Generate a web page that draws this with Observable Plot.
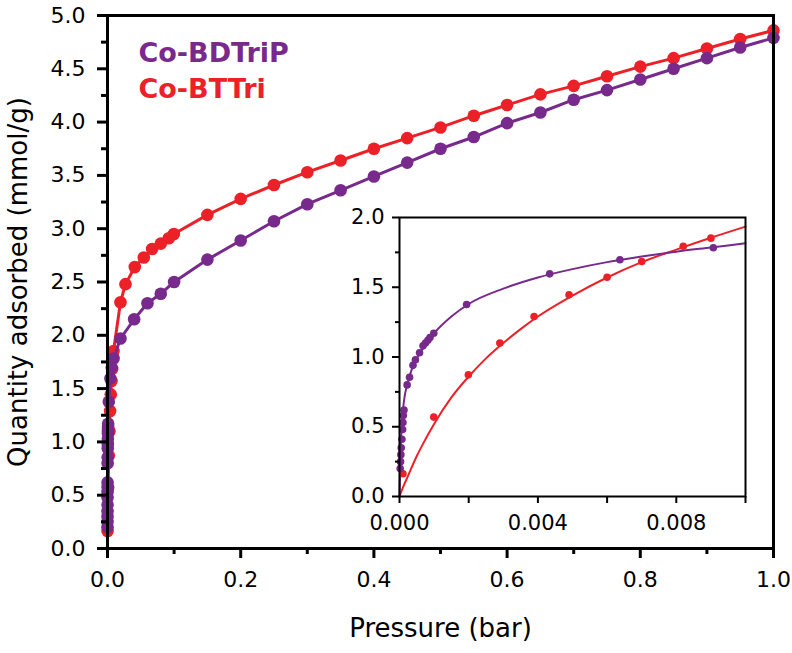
<!DOCTYPE html>
<html><head><meta charset="utf-8">
<script src="https://cdn.jsdelivr.net/npm/d3@7"></script>
<script src="https://cdn.jsdelivr.net/npm/@observablehq/plot@0.6"></script>
<style>
body{margin:0;background:#fff;}
#wrap{position:relative;width:792px;height:653px;overflow:hidden;background:#fff;}
#main,#inset{position:absolute;left:0;top:0;}
#inset{left:329px;top:202px;}
</style></head><body><div id="wrap"><div id="main"></div><div id="inset"></div></div>
<script>
// ---- Data ----
const seriesNames = ["Co-BDTriP", "Co-BTTri"];
const xTitle = "Pressure (bar)";
const yTitle = "Quantity adsorbed (mmol/g)";

// Co-BTTri (red) isotherm
const redP = [0.0001,0.00099,0.00199,0.0029,0.00389,0.0049,0.006,0.007,0.0082,0.009,
  0.0195,0.027,0.041,0.0545,0.067,0.08,0.092,0.0996,0.15,0.2,0.25,0.3,0.35,0.4,0.45,0.5,
  0.55,0.6,0.65,0.7,0.75,0.8,0.85,0.9,0.95,1.0];
const redQ = [0.163,0.569,0.872,1.10,1.29,1.446,1.572,1.685,1.794,1.852,
  2.31,2.48,2.64,2.73,2.81,2.86,2.91,2.95,3.13,3.28,3.41,3.53,3.64,3.75,3.85,3.95,
  4.06,4.16,4.26,4.34,4.43,4.52,4.60,4.69,4.78,4.86];

// Co-BDTriP (purple) isotherm
const purpleP = [0.00002,0.00003,0.00004,0.00005,0.00007,0.00009,0.0001,0.00011,0.00013,0.00022,
  0.00029,0.00039,0.00046,0.00058,0.00068,0.00075,0.00082,0.00088,0.00099,0.00194,0.00434,0.00637,0.00907,
  0.0195,0.04,0.06,0.08,0.1,0.15,0.2,0.25,0.3,0.35,0.4,0.45,0.5,0.55,0.6,0.65,0.7,0.75,0.8,0.85,0.9,0.95,1.0];
const purpleQ = [0.20,0.25,0.30,0.35,0.41,0.48,0.53,0.58,0.62,0.80,
  0.855,0.94,0.98,1.03,1.08,1.10,1.12,1.14,1.17,1.376,1.596,1.697,1.783,
  1.97,2.15,2.30,2.39,2.50,2.71,2.89,3.07,3.23,3.36,3.49,3.62,3.75,3.86,3.99,4.09,4.21,4.30,4.40,4.50,4.60,4.70,4.79];

// Fit curves shown in the inset
const redFitP = [0,0.0001,0.00025,0.0005,0.00075,0.001,0.0015,0.002,0.0025,0.003,0.0035,0.004,0.005,0.006,0.007,0.008,0.009,0.01];
const redFitQ = [0,0.065,0.15,0.29,0.41,0.52,0.71,0.86,0.99,1.10,1.20,1.29,1.44,1.57,1.68,1.77,1.855,1.935];
const purpleFitP = [0,0.00001,0.00003,0.00006,0.0001,0.00015,0.0002,0.0003,0.0004,0.0005,0.0007,0.001,0.0015,0.002,0.003,0.004,0.005,0.006,0.007,0.008,0.009,0.01];
const purpleFitQ = [0,0.12,0.30,0.48,0.62,0.72,0.78,0.87,0.94,0.99,1.07,1.17,1.29,1.38,1.49,1.57,1.63,1.68,1.72,1.755,1.785,1.815];

// Tick values
const mainXMajor = [0,0.2,0.4,0.6,0.8,1.0];
const mainXMinor = [0.1,0.3,0.5,0.7,0.9];
const mainYMajor = [0,0.5,1,1.5,2,2.5,3,3.5,4,4.5,5];
const mainYMinor = [0.25,0.75,1.25,1.75,2.25,2.75,3.25,3.75,4.25,4.75];
const insetXMajor = [0,0.004,0.008];
const insetXMinor = [0.002,0.006,0.01];
const insetYMajor = [0,0.5,1,1.5,2];
const insetYMinor = [0.25,0.75,1.25,1.75];

// ---- Build tables ----
const zip = (P, Q) => P.map((p, i) => ({p, q: Q[i]}));
const red = zip(redP, redQ);
const purple = zip(purpleP, purpleQ);
const redInset = red.filter(d => d.p <= 0.01);
const purpleInset = purple.filter(d => d.p <= 0.01);
const redFit = zip(redFitP, redFitQ);
const purpleFit = zip(purpleFitP, purpleFitQ);

const RED = "#EC2128", PURPLE = "#772A8C";
const FONT = "'DejaVu Sans', 'Liberation Sans', Arial, sans-serif";
const f1 = d3.format(".1f"), f3 = d3.format(".3f");
const blank = () => "";

const main = Plot.plot({
  width: 792, height: 653,
  marginLeft: 107, marginRight: 19, marginTop: 15, marginBottom: 105,
  x: {domain: [0, 1], label: null},
  y: {domain: [0, 5], label: null},
  style: {fontFamily: FONT, background: "transparent", color: "#000", overflow: "visible"},
  marks: [
    Plot.line(red, {x: "p", y: "q", stroke: RED, strokeWidth: 3}),
    Plot.dot(red, {x: "p", y: "q", r: 6.3, fill: RED}),
    Plot.line(purple, {x: "p", y: "q", stroke: PURPLE, strokeWidth: 3}),
    Plot.dot(purple, {x: "p", y: "q", r: 6.3, fill: PURPLE}),
    Plot.axisY(mainYMajor, {tickSize: 10, tickPadding: 12, strokeWidth: 3, fontSize: 22, tickFormat: f1, label: null}),
    Plot.axisY(mainYMinor, {tickSize: 6, strokeWidth: 3, tickFormat: blank, label: null}),
    Plot.axisX(mainXMajor, {tickSize: 10, tickPadding: 13, strokeWidth: 3, fontSize: 22, tickFormat: f1, label: null}),
    Plot.axisX(mainXMinor, {tickSize: 6, strokeWidth: 3, tickFormat: blank, label: null}),
    Plot.frame({strokeWidth: 3}),
    Plot.text([yTitle], {frameAnchor: "left", textAnchor: "middle", lineAnchor: "middle", rotate: -90, dx: -89, fontSize: 26}),
    Plot.text([xTitle], {frameAnchor: "bottom", textAnchor: "middle", lineAnchor: "middle", dy: 80, fontSize: 26}),
    Plot.text([seriesNames[0]], {frameAnchor: "top-left", lineAnchor: "middle", dx: 31, dy: 38, fill: PURPLE, fontWeight: "bold", fontSize: 27, textAnchor: "start"}),
    Plot.text([seriesNames[1]], {frameAnchor: "top-left", lineAnchor: "middle", dx: 31, dy: 74, fill: RED, fontWeight: "bold", fontSize: 27, textAnchor: "start"})
  ]
});
document.getElementById("main").appendChild(main);

const inset = Plot.plot({
  width: 450, height: 340,
  marginLeft: 70, marginTop: 15, marginRight: 34, marginBottom: 46,
  x: {domain: [0, 0.01], label: null},
  y: {domain: [0, 2], label: null},
  style: {fontFamily: FONT, background: "transparent", color: "#000", overflow: "visible"},
  marks: [
    Plot.line(redFit, {x: "p", y: "q", stroke: RED, strokeWidth: 2, curve: "monotone-x"}),
    Plot.line(purpleFit, {x: "p", y: "q", stroke: PURPLE, strokeWidth: 2, curve: "monotone-x"}),
    Plot.dot(redInset, {x: "p", y: "q", r: 3.8, fill: RED}),
    Plot.dot(purpleInset, {x: "p", y: "q", r: 3.8, fill: PURPLE}),
    Plot.axisY(insetYMajor, {tickSize: 7, tickPadding: 8, strokeWidth: 2, fontSize: 21, tickFormat: f1, label: null}),
    Plot.axisY(insetYMinor, {tickSize: 4, strokeWidth: 2, tickFormat: blank, label: null}),
    Plot.axisX(insetXMajor, {tickSize: 7, tickPadding: 12, strokeWidth: 2, fontSize: 21, tickFormat: f3, label: null}),
    Plot.axisX(insetXMinor, {tickSize: 7, strokeWidth: 2, tickFormat: blank, label: null}),
    Plot.frame({strokeWidth: 2})
  ]
});
document.getElementById("inset").appendChild(inset);
</script>
</body></html>
